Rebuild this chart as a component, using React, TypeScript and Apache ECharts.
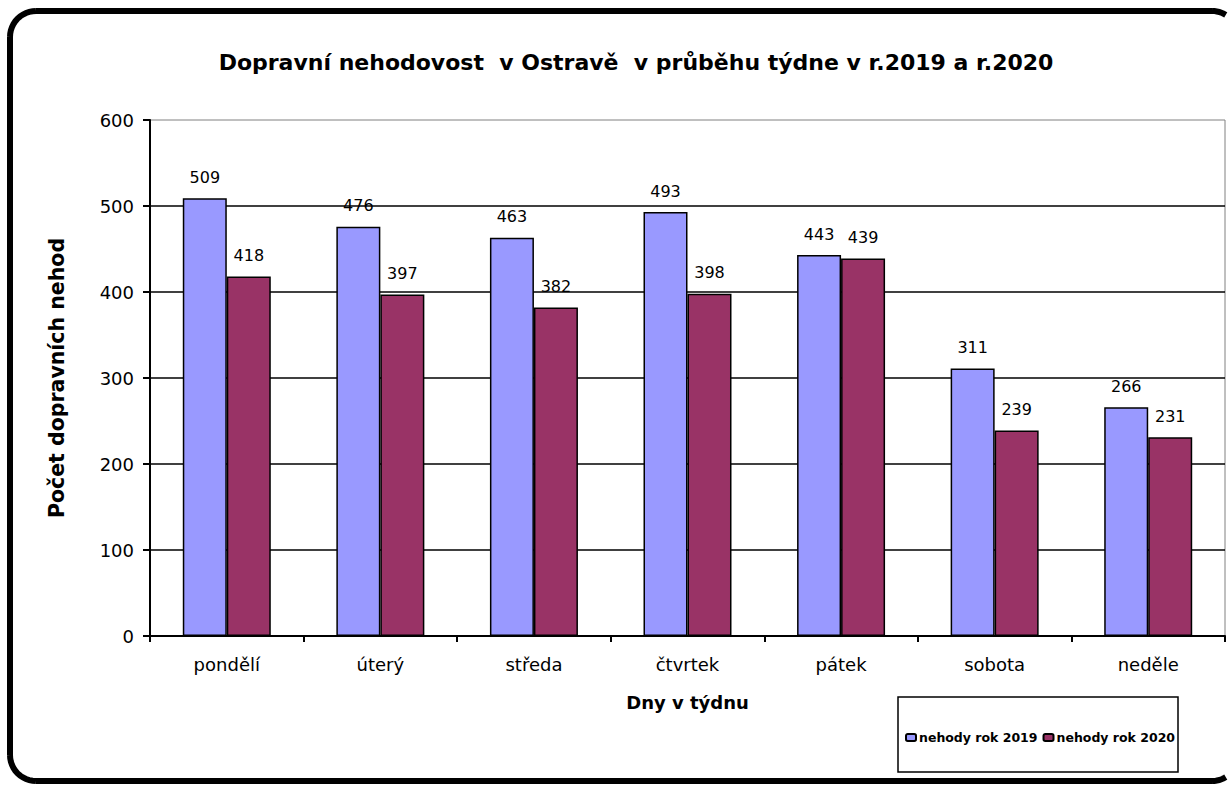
import React, { useEffect, useRef } from "react";
import * as echarts from "echarts";

const days = ["pondělí", "úterý", "středa", "čtvrtek", "pátek", "sobota", "neděle"];
const values2019 = [509, 476, 463, 493, 443, 311, 266];
const values2020 = [418, 397, 382, 398, 439, 239, 231];
const seriesNames = ["nehody rok 2019", "nehody rok 2020"];
const titleText = "Dopravní nehodovost  v Ostravě  v průběhu týdne v r.2019 a r.2020";
const yName = "Počet dopravních nehod";
const xName = "Dny v týdnu";

const FONT = "DejaVu Sans, Arial, sans-serif";

function cornerPoints(cx: number, cy: number, r: number, a0: number, a1: number) {
  const pts: number[][] = [];
  const steps = 12;
  for (let i = 0; i <= steps; i++) {
    const a = ((a0 + ((a1 - a0) * i) / steps) * Math.PI) / 180;
    pts.push([cx + r * Math.cos(a), cy + r * Math.sin(a)]);
  }
  return pts;
}

export default function App() {
  const ref = useRef<HTMLDivElement>(null);
  useEffect(() => {
    if (!ref.current) return;
    const chart = echarts.init(ref.current, undefined, { renderer: "svg" });
    const labelStyle = {
      show: true,
      position: "top" as const,
      distance: 13,
      color: "#000",
      fontSize: 16,
      fontFamily: FONT,
    };
    const frameStyle = { fill: "none", stroke: "#000", lineWidth: 6 };
    chart.setOption({
      animation: false,
      backgroundColor: "#fff",
      title: {
        text: titleText,
        left: 631,
        top: 46,
        textAlign: "center",
        textStyle: { fontFamily: FONT, fontWeight: "bold", fontSize: 22, color: "#000" },
      },
      graphic: [
        { type: "line", shape: { x1: 36, y1: 11, x2: 1212, y2: 11 }, style: frameStyle, z: 100 },
        { type: "line", shape: { x1: 36, y1: 781, x2: 1212, y2: 781 }, style: frameStyle, z: 100 },
        { type: "line", shape: { x1: 10, y1: 37, x2: 10, y2: 755 }, style: frameStyle, z: 100 },
        { type: "polyline", shape: { points: cornerPoints(36, 37, 26, 180, 270) }, style: frameStyle, z: 100 },
        { type: "polyline", shape: { points: cornerPoints(36, 755, 26, 90, 180) }, style: frameStyle, z: 100 },
        { type: "polyline", shape: { points: cornerPoints(1212, 37, 26, 270, 302) }, style: frameStyle, z: 100 },
        { type: "polyline", shape: { points: cornerPoints(1212, 755, 26, 58, 90) }, style: frameStyle, z: 100 },
        {
          type: "rect",
          shape: { x: 898, y: 697, width: 280, height: 75 },
          style: { fill: "#fff", stroke: "#000", lineWidth: 1.5 },
          z: 1,
        },
      ],
      legend: {
        data: seriesNames,
        left: 905,
        top: 731,
        itemWidth: 10,
        itemHeight: 7,
        itemGap: 5,
        padding: 0,
        textStyle: { fontFamily: FONT, fontWeight: "bold", fontSize: 12.5, color: "#000", padding: [0, 0, 0, -2] },
        z: 10,
      },
      grid: {
        left: 150,
        right: 4,
        top: 120,
        bottom: 149,
        show: true,
        borderColor: "#808080",
        borderWidth: 1,
        backgroundColor: "transparent",
      },
      xAxis: {
        type: "category",
        data: days,
        name: xName,
        nameLocation: "middle",
        nameGap: 57,
        nameTextStyle: { fontFamily: FONT, fontWeight: "bold", fontSize: 18, color: "#000" },
        axisLine: { show: true, lineStyle: { color: "#000", width: 2 } },
        axisTick: { show: true, alignWithLabel: false, length: 6, lineStyle: { color: "#000", width: 2 } },
        axisLabel: { color: "#000", fontSize: 18, fontFamily: FONT, margin: 19 },
        splitLine: { show: false },
      },
      yAxis: {
        type: "value",
        min: 0,
        max: 600,
        interval: 100,
        name: yName,
        nameLocation: "middle",
        nameRotate: 90,
        nameGap: 83,
        nameTextStyle: { fontFamily: FONT, fontWeight: "bold", fontSize: 20.5, color: "#000" },
        axisLine: { show: true, lineStyle: { color: "#000", width: 2 } },
        axisTick: { show: true, inside: false, length: 7, lineStyle: { color: "#000", width: 2 } },
        axisLabel: { color: "#000", fontSize: 18, fontFamily: FONT, margin: 16 },
        splitLine: { show: true, showMaxLine: false, lineStyle: { color: "#000", width: 1.5 } },
      },
      series: [
        {
          name: seriesNames[0],
          type: "bar",
          data: values2019,
          barGap: "0%",
          barCategoryGap: "42.7%",
          itemStyle: { color: "#9999FF", borderColor: "#000", borderWidth: 1.5 },
          label: labelStyle,
        },
        {
          name: seriesNames[1],
          type: "bar",
          data: values2020,
          barGap: "0%",
          barCategoryGap: "42.7%",
          itemStyle: { color: "#993366", borderColor: "#000", borderWidth: 1.5 },
          label: labelStyle,
        },
      ],
    });
    return () => chart.dispose();
  }, []);
  return (
    <div
      ref={ref}
      style={{ position: "absolute", left: 0, top: 0, width: 1229, height: 785, overflow: "hidden" }}
    />
  );
}
